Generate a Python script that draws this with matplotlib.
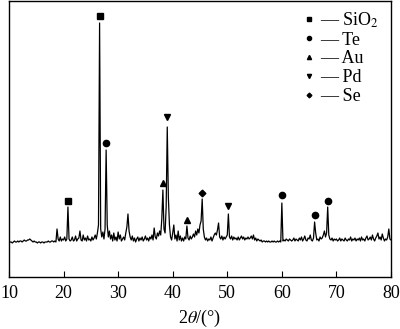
import matplotlib
matplotlib.use("Agg")
import matplotlib.pyplot as plt
from matplotlib.lines import Line2D
import numpy as np

plt.rcParams['font.family'] = ['Liberation Serif', 'DejaVu Serif']
plt.rcParams['mathtext.fontset'] = 'stix'

# XRD pattern, 2theta from 10 to 80 deg in 0.2 deg steps (a.u.)
intensity = [
    34, 35, 35, 34, 35, 36, 35, 35, 36, 35,      # 10.0
    36, 36, 35, 36, 37, 36, 36, 37, 37, 38,      # 12.0
    37, 36, 35, 36, 35, 35, 34, 35, 35, 34,      # 14.0
    35, 35, 34, 35, 35, 35, 36, 35, 35, 36,      # 16.0
    36, 35, 36, 35, 48, 38, 36, 40, 36, 38,      # 18.0
    37, 40, 36, 38, 70, 38, 36, 37, 40, 36,      # 20.0
    37, 41, 36, 38, 39, 46, 37, 36, 42, 37,      # 22.0
    39, 36, 41, 37, 38, 36, 40, 37, 39, 42,      # 24.0
    38, 44, 52, 254, 48, 40, 45, 38, 48, 127,    # 26.0
    52, 40, 46, 38, 42, 36, 44, 37, 40, 36,      # 28.0
    45, 38, 42, 36, 38, 40, 37, 44, 50, 63,      # 30.0
    46, 40, 37, 41, 36, 39, 35, 38, 40, 36,      # 32.0
    39, 37, 40, 36, 38, 41, 37, 39, 36, 40,      # 34.0
    38, 42, 37, 49, 40, 38, 44, 41, 46, 42,      # 36.0
    58, 87, 48, 44, 70, 150, 80, 52, 40, 37,     # 38.0
    44, 52, 38, 42, 36, 46, 37, 41, 36, 39,      # 40.0
    36, 40, 38, 51, 39, 37, 41, 38, 40, 43,      # 42.0
    40, 46, 42, 48, 44, 52, 56, 78, 48, 40,      # 44.0
    37, 39, 36, 38, 37, 40, 36, 39, 42, 44,      # 46.0
    42, 47, 54, 40, 38, 41, 37, 40, 38, 40,      # 48.0
    42, 63, 40, 38, 41, 37, 40, 38, 39, 37,      # 50.0
    40, 37, 39, 41, 38, 40, 37, 39, 38, 40,      # 52.0
    38, 39, 41, 38, 42, 37, 39, 36, 38, 37,      # 54.0
    36, 37, 35, 36, 36, 35, 36, 35, 36, 35,      # 56.0
    35, 36, 35, 36, 35, 35, 36, 35, 36, 35,      # 58.0
    74, 36, 37, 36, 38, 37, 36, 38, 37, 36,      # 60.0
    37, 39, 36, 38, 37, 36, 39, 37, 40, 36,      # 62.0
    38, 41, 37, 36, 39, 38, 42, 37, 36, 39,      # 64.0
    55, 44, 37, 38, 36, 40, 38, 39, 42, 46,      # 66.0
    40, 44, 70, 42, 38, 37, 39, 36, 38, 37,      # 68.0
    38, 36, 37, 39, 36, 38, 37, 36, 39, 37,      # 70.0
    36, 38, 37, 40, 36, 38, 37, 39, 36, 38,      # 72.0
    37, 39, 36, 40, 37, 38, 36, 39, 41, 37,      # 74.0
    38, 40, 37, 42, 38, 36, 39, 41, 44, 38,      # 76.0
    40, 37, 43, 39, 36, 38, 37, 40, 48, 38,      # 78.0
    37,                                          # 80.0
]
two_theta = np.linspace(10, 80, len(intensity))

# phase markers placed above the identified peaks
sio2_x, sio2_y = [20.8, 26.6], [76, 261]
te_x, te_y = [27.8, 60.0, 66.0, 68.4], [134, 82, 62, 76]
au_x, au_y = [38.2, 42.6], [94, 57]
pd_x, pd_y = [39.0, 50.2], [160, 71]
se_x, se_y = [45.4], [84]

phases = ['SiO$_2$', 'Te', 'Au', 'Pd', 'Se']
markers = ['s', 'o', '^', 'v', 'D']
sizes = [4.2, 4.5, 4.5, 4.5, 3.4]
legend_sizes = [2.6, 3.0, 3.0, 3.0, 2.4]

fig = plt.figure(figsize=(4.0, 3.29), dpi=100)
ax = fig.add_axes([9 / 400, 1 - 277 / 329, 382 / 400, 276 / 329])

ax.plot(two_theta, intensity, color='black', linewidth=0.9)

points = [(sio2_x, sio2_y), (te_x, te_y), (au_x, au_y), (pd_x, pd_y), (se_x, se_y)]
for (px, py), m, s in zip(points, markers, sizes):
    ax.plot(px, py, linestyle='none', marker=m, markersize=s, color='black')

handles = [Line2D([], [], linestyle='none', marker=m, markersize=s, color='black')
           for m, s in zip(markers, legend_sizes)]
ax.legend(handles, ['\u2014 ' + p for p in phases], loc='upper left',
          bbox_to_anchor=(0.745, 1.005), frameon=False, fontsize=13,
          handlelength=0.5, handletextpad=0.35, labelspacing=0.1,
          borderpad=0.1)

ax.set_xlim(10, 80)
ax.set_ylim(0, 276)
ax.set_xticks(range(10, 81, 10))
ax.set_yticks([])
ax.tick_params(axis='x', direction='in', length=4, width=0.8, labelsize=13, pad=6)
for sp in ax.spines.values():
    sp.set_linewidth(1.0)
ax.set_xlabel(r'2$\theta$/(°)', fontsize=13, labelpad=4)

fig.savefig('out.png', dpi=100)
